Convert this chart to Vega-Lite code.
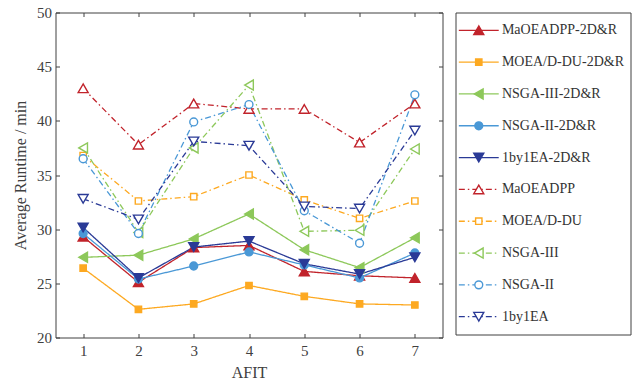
{
  "$schema": "https://vega.github.io/schema/vega-lite/v6.json",
  "padding": {"left": 11.5, "top": 4.5, "right": 0, "bottom": 0},
  "spacing": 11,
  "background": "white",
  "config": {
    "font": "Liberation Serif",
    "view": {"stroke": "#404040", "strokeWidth": 1},
    "axis": {"grid": false, "domain": false, "tickColor": "#404040", "labelColor": "#404040", "titleColor": "#404040", "labelFont": "Liberation Serif", "titleFont": "Liberation Serif", "titleFontWeight": "normal"}
  },
  "datasets": {
    "runtime": [
      {"series": "MaOEADPP-2D&R", "AFIT": 1, "runtime": 29.3},
      {"series": "MaOEADPP-2D&R", "AFIT": 2, "runtime": 25.1},
      {"series": "MaOEADPP-2D&R", "AFIT": 3, "runtime": 28.3},
      {"series": "MaOEADPP-2D&R", "AFIT": 4, "runtime": 28.5},
      {"series": "MaOEADPP-2D&R", "AFIT": 5, "runtime": 26.1},
      {"series": "MaOEADPP-2D&R", "AFIT": 6, "runtime": 25.7},
      {"series": "MaOEADPP-2D&R", "AFIT": 7, "runtime": 25.5},
      {"series": "MOEA/D-DU-2D&R", "AFIT": 1, "runtime": 26.4},
      {"series": "MOEA/D-DU-2D&R", "AFIT": 2, "runtime": 22.6},
      {"series": "MOEA/D-DU-2D&R", "AFIT": 3, "runtime": 23.1},
      {"series": "MOEA/D-DU-2D&R", "AFIT": 4, "runtime": 24.8},
      {"series": "MOEA/D-DU-2D&R", "AFIT": 5, "runtime": 23.8},
      {"series": "MOEA/D-DU-2D&R", "AFIT": 6, "runtime": 23.1},
      {"series": "MOEA/D-DU-2D&R", "AFIT": 7, "runtime": 23.0},
      {"series": "NSGA-III-2D&R", "AFIT": 1, "runtime": 27.4},
      {"series": "NSGA-III-2D&R", "AFIT": 2, "runtime": 27.6},
      {"series": "NSGA-III-2D&R", "AFIT": 3, "runtime": 29.1},
      {"series": "NSGA-III-2D&R", "AFIT": 4, "runtime": 31.4},
      {"series": "NSGA-III-2D&R", "AFIT": 5, "runtime": 28.1},
      {"series": "NSGA-III-2D&R", "AFIT": 6, "runtime": 26.45},
      {"series": "NSGA-III-2D&R", "AFIT": 7, "runtime": 29.2},
      {"series": "NSGA-II-2D&R", "AFIT": 1, "runtime": 29.6},
      {"series": "NSGA-II-2D&R", "AFIT": 2, "runtime": 25.4},
      {"series": "NSGA-II-2D&R", "AFIT": 3, "runtime": 26.6},
      {"series": "NSGA-II-2D&R", "AFIT": 4, "runtime": 27.9},
      {"series": "NSGA-II-2D&R", "AFIT": 5, "runtime": 26.7},
      {"series": "NSGA-II-2D&R", "AFIT": 6, "runtime": 25.5},
      {"series": "NSGA-II-2D&R", "AFIT": 7, "runtime": 27.8},
      {"series": "1by1EA-2D&R", "AFIT": 1, "runtime": 30.15},
      {"series": "1by1EA-2D&R", "AFIT": 2, "runtime": 25.5},
      {"series": "1by1EA-2D&R", "AFIT": 3, "runtime": 28.35},
      {"series": "1by1EA-2D&R", "AFIT": 4, "runtime": 28.9},
      {"series": "1by1EA-2D&R", "AFIT": 5, "runtime": 26.8},
      {"series": "1by1EA-2D&R", "AFIT": 6, "runtime": 25.85},
      {"series": "1by1EA-2D&R", "AFIT": 7, "runtime": 27.4},
      {"series": "MaOEADPP", "AFIT": 1, "runtime": 43.0},
      {"series": "MaOEADPP", "AFIT": 2, "runtime": 37.8},
      {"series": "MaOEADPP", "AFIT": 3, "runtime": 41.6},
      {"series": "MaOEADPP", "AFIT": 4, "runtime": 41.1},
      {"series": "MaOEADPP", "AFIT": 5, "runtime": 41.1},
      {"series": "MaOEADPP", "AFIT": 6, "runtime": 38.0},
      {"series": "MaOEADPP", "AFIT": 7, "runtime": 41.6},
      {"series": "MOEA/D-DU", "AFIT": 1, "runtime": 36.8},
      {"series": "MOEA/D-DU", "AFIT": 2, "runtime": 32.6},
      {"series": "MOEA/D-DU", "AFIT": 3, "runtime": 33.0},
      {"series": "MOEA/D-DU", "AFIT": 4, "runtime": 35.0},
      {"series": "MOEA/D-DU", "AFIT": 5, "runtime": 32.7},
      {"series": "MOEA/D-DU", "AFIT": 6, "runtime": 31.0},
      {"series": "MOEA/D-DU", "AFIT": 7, "runtime": 32.6},
      {"series": "NSGA-III", "AFIT": 1, "runtime": 37.5},
      {"series": "NSGA-III", "AFIT": 2, "runtime": 29.7},
      {"series": "NSGA-III", "AFIT": 3, "runtime": 37.5},
      {"series": "NSGA-III", "AFIT": 4, "runtime": 43.3},
      {"series": "NSGA-III", "AFIT": 5, "runtime": 29.8},
      {"series": "NSGA-III", "AFIT": 6, "runtime": 29.9},
      {"series": "NSGA-III", "AFIT": 7, "runtime": 37.4},
      {"series": "NSGA-II", "AFIT": 1, "runtime": 36.5},
      {"series": "NSGA-II", "AFIT": 2, "runtime": 29.6},
      {"series": "NSGA-II", "AFIT": 3, "runtime": 39.9},
      {"series": "NSGA-II", "AFIT": 4, "runtime": 41.5},
      {"series": "NSGA-II", "AFIT": 5, "runtime": 31.7},
      {"series": "NSGA-II", "AFIT": 6, "runtime": 28.7},
      {"series": "NSGA-II", "AFIT": 7, "runtime": 42.4},
      {"series": "1by1EA", "AFIT": 1, "runtime": 32.8},
      {"series": "1by1EA", "AFIT": 2, "runtime": 30.9},
      {"series": "1by1EA", "AFIT": 3, "runtime": 38.1},
      {"series": "1by1EA", "AFIT": 4, "runtime": 37.7},
      {"series": "1by1EA", "AFIT": 5, "runtime": 32.1},
      {"series": "1by1EA", "AFIT": 6, "runtime": 31.9},
      {"series": "1by1EA", "AFIT": 7, "runtime": 39.1}
    ]
  },
  "hconcat": [
    {
      "width": 387,
      "height": 325,
      "data": {"name": "runtime"},
      "layer": [
        {
          "mark": {"type": "line", "strokeWidth": 1.3},
          "encoding": {
            "x": {"field": "AFIT", "type": "quantitative", "scale": {"domain": [0.5, 7.5], "nice": false, "zero": false},
                  "axis": {"orient": "bottom", "values": [1, 2, 3, 4, 5, 6, 7], "tickSize": -4, "labelPadding": 10, "labelFontSize": 15, "title": "AFIT", "titleFontSize": 16, "titlePadding": 6}},
            "y": {"field": "runtime", "type": "quantitative", "scale": {"domain": [20, 50], "nice": false, "zero": false},
                  "axis": {"orient": "left", "values": [20, 25, 30, 35, 40, 45, 50], "tickSize": -4, "labelPadding": 8, "labelFontSize": 15, "title": "Average Runtime / min", "titleFontSize": 16, "titlePadding": 8}},
            "detail": {"field": "series"},
            "color": {"field": "series", "type": "nominal", "legend": null,
                      "scale": {"domain": ["MaOEADPP-2D&R", "MOEA/D-DU-2D&R", "NSGA-III-2D&R", "NSGA-II-2D&R", "1by1EA-2D&R", "MaOEADPP", "MOEA/D-DU", "NSGA-III", "NSGA-II", "1by1EA"],
                                "range": ["#C1232B", "#FDA921", "#8DC85A", "#4A98D6", "#2A3A96", "#C1232B", "#FDA921", "#8DC85A", "#4A98D6", "#2A3A96"]}},
            "strokeDash": {"field": "series", "type": "nominal", "legend": null,
                      "scale": {"domain": ["MaOEADPP-2D&R", "MOEA/D-DU-2D&R", "NSGA-III-2D&R", "NSGA-II-2D&R", "1by1EA-2D&R", "MaOEADPP", "MOEA/D-DU", "NSGA-III", "NSGA-II", "1by1EA"],
                                "range": [[1, 0], [1, 0], [1, 0], [1, 0], [1, 0], [6, 3, 1.5, 3], [6, 3, 1.5, 3], [6, 3, 1.5, 3], [6, 3, 1.5, 3], [6, 3, 1.5, 3]]}}
          }
        },
        {
          "mark": {"type": "point", "strokeWidth": 1.4, "opacity": 1},
          "encoding": {
            "x": {"field": "AFIT", "type": "quantitative", "axis": {"orient": "top", "values": [1, 2, 3, 4, 5, 6, 7], "tickSize": -4, "labels": false, "title": null}},
            "y": {"field": "runtime", "type": "quantitative", "axis": {"orient": "right", "values": [20, 25, 30, 35, 40, 45, 50], "tickSize": -4, "labels": false, "title": null}},
            "stroke": {"field": "series", "type": "nominal", "legend": null,
                      "scale": {"domain": ["MaOEADPP-2D&R", "MOEA/D-DU-2D&R", "NSGA-III-2D&R", "NSGA-II-2D&R", "1by1EA-2D&R", "MaOEADPP", "MOEA/D-DU", "NSGA-III", "NSGA-II", "1by1EA"],
                                "range": ["#C1232B", "#FDA921", "#8DC85A", "#4A98D6", "#2A3A96", "#C1232B", "#FDA921", "#8DC85A", "#4A98D6", "#2A3A96"]}},
            "fill": {"field": "series", "type": "nominal", "legend": null,
                      "scale": {"domain": ["MaOEADPP-2D&R", "MOEA/D-DU-2D&R", "NSGA-III-2D&R", "NSGA-II-2D&R", "1by1EA-2D&R", "MaOEADPP", "MOEA/D-DU", "NSGA-III", "NSGA-II", "1by1EA"],
                                "range": ["#C1232B", "#FDA921", "#8DC85A", "#4A98D6", "#2A3A96", "#FFFFFF", "#FFFFFF", "#FFFFFF", "#FFFFFF", "#FFFFFF"]}},
            "shape": {"field": "series", "type": "nominal", "legend": null,
                      "scale": {"domain": ["MaOEADPP-2D&R", "MOEA/D-DU-2D&R", "NSGA-III-2D&R", "NSGA-II-2D&R", "1by1EA-2D&R", "MaOEADPP", "MOEA/D-DU", "NSGA-III", "NSGA-II", "1by1EA"],
                                "range": ["triangle-up", "square", "triangle-left", "circle", "triangle-down", "triangle-up", "square", "triangle-left", "circle", "triangle-down"]}},
            "size": {"field": "series", "type": "nominal", "legend": null,
                      "scale": {"type": "ordinal", "domain": ["MaOEADPP-2D&R", "MOEA/D-DU-2D&R", "NSGA-III-2D&R", "NSGA-II-2D&R", "1by1EA-2D&R", "MaOEADPP", "MOEA/D-DU", "NSGA-III", "NSGA-II", "1by1EA"],
                                "range": [100, 40, 100, 62, 100, 100, 40, 100, 62, 100]}}
          }
        }
      ],
      "resolve": {"axis": {"x": "independent", "y": "independent"}}
    },
    {
      "width": 175,
      "height": 322,
      "data": {"name": "runtime"},
      "transform": [{"filter": "datum.AFIT == 1"}],
      "encoding": {
        "y": {"field": "series", "type": "nominal", "axis": null,
              "sort": ["MaOEADPP-2D&R", "MOEA/D-DU-2D&R", "NSGA-III-2D&R", "NSGA-II-2D&R", "1by1EA-2D&R", "MaOEADPP", "MOEA/D-DU", "NSGA-III", "NSGA-II", "1by1EA"],
              "scale": {"type": "point", "padding": 0.56}}
      },
      "layer": [
        {
          "mark": {"type": "rule", "strokeWidth": 1.3},
          "encoding": {
            "x": {"datum": 0.19, "type": "quantitative", "scale": {"domain": [0, 10]}, "axis": null},
            "x2": {"datum": 2.47},
            "color": {"field": "series", "type": "nominal", "legend": null,
                      "scale": {"domain": ["MaOEADPP-2D&R", "MOEA/D-DU-2D&R", "NSGA-III-2D&R", "NSGA-II-2D&R", "1by1EA-2D&R", "MaOEADPP", "MOEA/D-DU", "NSGA-III", "NSGA-II", "1by1EA"],
                                "range": ["#C1232B", "#FDA921", "#8DC85A", "#4A98D6", "#2A3A96", "#C1232B", "#FDA921", "#8DC85A", "#4A98D6", "#2A3A96"]}},
            "strokeDash": {"field": "series", "type": "nominal", "legend": null,
                      "scale": {"domain": ["MaOEADPP-2D&R", "MOEA/D-DU-2D&R", "NSGA-III-2D&R", "NSGA-II-2D&R", "1by1EA-2D&R", "MaOEADPP", "MOEA/D-DU", "NSGA-III", "NSGA-II", "1by1EA"],
                                "range": [[1, 0], [1, 0], [1, 0], [1, 0], [1, 0], [6, 3, 1.5, 3], [6, 3, 1.5, 3], [6, 3, 1.5, 3], [6, 3, 1.5, 3], [6, 3, 1.5, 3]]}}
          }
        },
        {
          "mark": {"type": "point", "strokeWidth": 1.4, "opacity": 1},
          "encoding": {
            "x": {"datum": 1.33, "type": "quantitative"},
            "stroke": {"field": "series", "type": "nominal", "legend": null,
                      "scale": {"domain": ["MaOEADPP-2D&R", "MOEA/D-DU-2D&R", "NSGA-III-2D&R", "NSGA-II-2D&R", "1by1EA-2D&R", "MaOEADPP", "MOEA/D-DU", "NSGA-III", "NSGA-II", "1by1EA"],
                                "range": ["#C1232B", "#FDA921", "#8DC85A", "#4A98D6", "#2A3A96", "#C1232B", "#FDA921", "#8DC85A", "#4A98D6", "#2A3A96"]}},
            "fill": {"field": "series", "type": "nominal", "legend": null,
                      "scale": {"domain": ["MaOEADPP-2D&R", "MOEA/D-DU-2D&R", "NSGA-III-2D&R", "NSGA-II-2D&R", "1by1EA-2D&R", "MaOEADPP", "MOEA/D-DU", "NSGA-III", "NSGA-II", "1by1EA"],
                                "range": ["#C1232B", "#FDA921", "#8DC85A", "#4A98D6", "#2A3A96", "#FFFFFF", "#FFFFFF", "#FFFFFF", "#FFFFFF", "#FFFFFF"]}},
            "shape": {"field": "series", "type": "nominal", "legend": null,
                      "scale": {"domain": ["MaOEADPP-2D&R", "MOEA/D-DU-2D&R", "NSGA-III-2D&R", "NSGA-II-2D&R", "1by1EA-2D&R", "MaOEADPP", "MOEA/D-DU", "NSGA-III", "NSGA-II", "1by1EA"],
                                "range": ["triangle-up", "square", "triangle-left", "circle", "triangle-down", "triangle-up", "square", "triangle-left", "circle", "triangle-down"]}},
            "size": {"field": "series", "type": "nominal", "legend": null,
                      "scale": {"type": "ordinal", "domain": ["MaOEADPP-2D&R", "MOEA/D-DU-2D&R", "NSGA-III-2D&R", "NSGA-II-2D&R", "1by1EA-2D&R", "MaOEADPP", "MOEA/D-DU", "NSGA-III", "NSGA-II", "1by1EA"],
                                "range": [100, 40, 100, 62, 100, 100, 40, 100, 62, 100]}}
          }
        },
        {
          "mark": {"type": "text", "align": "left", "baseline": "middle", "fontSize": 14, "color": "#333333", "font": "Liberation Serif"},
          "encoding": {
            "x": {"datum": 2.65, "type": "quantitative"},
            "text": {"field": "series"}
          }
        }
      ]
    }
  ]
}
